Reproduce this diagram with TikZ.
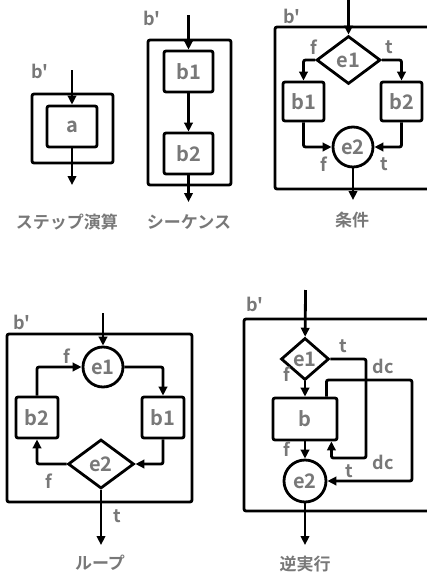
\documentclass[tikz,border=0pt]{standalone}
\usepackage{fontspec}
\setmainfont{Noto Sans CJK JP}[BoldFont={Noto Sans CJK JP Bold}]
\usetikzlibrary{arrows.meta,shapes.geometric}
\definecolor{txtgray}{RGB}{120,120,120}
\newcommand{\bprime}{b\textquotesingle}
\begin{document}
\begin{tikzpicture}[x=1pt, y=-1pt, line width=2.8pt,
  flow/.style={-{Triangle[length=9pt,width=8.5pt]}, rounded corners=2pt},
  blk/.style={draw, rounded corners=2pt, inner sep=0pt, text=txtgray,
    font=\fontsize{20}{20}\selectfont\bfseries},
  outer/.style={draw, rounded corners=2pt, inner sep=0pt},
  cond/.style={draw, diamond, inner sep=0pt, text=txtgray,
    font=\fontsize{20}{20}\selectfont\bfseries},
  merge/.style={draw, circle, inner sep=0pt, minimum size=40pt, text=txtgray,
    font=\fontsize{20}{20}\selectfont\bfseries},
  lbl/.style={text=txtgray, inner sep=0pt, font=\fontsize{18}{18}\selectfont\bfseries},
  caption/.style={text=txtgray, inner sep=0pt, font=\fontsize{17}{17}\selectfont\bfseries}]
\clip (0,0) rectangle (427,576);
% step
\node[outer, minimum width=81pt, minimum height=69pt] (box1) at (72.5,128.5) {};
\node[blk, minimum width=50pt, minimum height=41pt] (a) at (72,126.5) {a};
\coordinate (in1) at (72,70);
\coordinate (out1) at (72,185);
\draw[flow] (in1) -- (a);
\draw[flow] (a) -- (out1);
\node[lbl] (bp1) at (40,71) {\bprime};
\node[caption] (cap1) at (67,222) {ステップ演算};
% sequence
\node[outer, minimum width=83pt, minimum height=145pt] (box2) at (189.5,112.5) {};
\node[blk, minimum width=49pt, minimum height=41pt] (s1) at (188.5,71.5) {b1};
\node[blk, minimum width=49pt, minimum height=41pt] (s2) at (188.5,153.5) {b2};
\coordinate (in2) at (188.5,15);
\coordinate (out2) at (188.5,202);
\draw[flow] (in2) -- (s1);
\draw[flow] (s1) -- (s2);
\draw[flow] (s2) -- (out2);
\node[lbl] (bp2) at (152,18) {\bprime};
\node[caption] (cap2) at (189,222) {シーケンス};
% condition
\node[outer, minimum width=165pt, minimum height=162pt] (box3) at (357.5,108) {};
\node[cond, minimum width=64pt, minimum height=48pt] (c1) at (348.5,60) {e1};
\node[blk, minimum width=41pt, minimum height=39pt] (cb1) at (303.5,101.5) {b1};
\node[blk, minimum width=41pt, minimum height=39pt] (cb2) at (401.5,101.5) {b2};
\node[merge] (c2) at (353,147) {e2};
\coordinate (in3) at (348.5,-2);
\coordinate (out3) at (353,200);
\draw[flow] (in3) -- (c1);
\draw[flow] (c1.west) -| (cb1.north);
\draw[flow] (c1.east) -| (cb2.north);
\draw[flow] (cb1.south) |- (c2.west);
\draw[flow] (cb2.south) |- (c2.east);
\draw[flow] (c2) -- (out3);
\node[lbl] (cf1) at (314,47) {f};
\node[lbl] (ct1) at (389,47) {t};
\node[lbl] (cf2) at (324,164) {f};
\node[lbl] (ct2) at (384,164) {t};
\node[lbl] (bp3) at (292,16) {\bprime};
\node[caption] (cap3) at (352,220) {条件};
% loop
\node[outer, minimum width=185pt, minimum height=168pt] (box4) at (99.5,418) {};
\node[merge] (l1) at (103,367) {e1};
\node[blk, minimum width=42pt, minimum height=41pt] (lb2) at (37,417.5) {b2};
\node[blk, minimum width=42pt, minimum height=41pt] (lb1) at (163,417.5) {b1};
\node[cond, minimum width=66pt, minimum height=49pt] (l2) at (101,464) {e2};
\coordinate (in4) at (103,313);
\coordinate (out4) at (101,545);
\draw[flow] (in4) -- (l1);
\draw[flow] (l1.east) -| (lb1.north);
\draw[flow] (lb1.south) |- (l2.east);
\draw[flow] (l2.west) -| (lb2.south);
\draw[flow] (lb2.north) |- (l1.west);
\draw[flow] (l2.south) -- (out4);
\node[lbl] (lf1) at (67,356) {f};
\node[lbl] (lf2) at (49,481) {f};
\node[lbl] (lt1) at (117,516) {t};
\node[lbl] (bp4) at (22,322) {\bprime};
\node[caption] (cap4) at (100,563) {ループ};
% reverse
\node[outer, minimum width=196pt, minimum height=192pt] (box5) at (342,415) {};
\node[cond, minimum width=48pt, minimum height=42pt] (r1) at (305,359) {e1};
\node[blk, minimum width=64pt, minimum height=42pt] (rb) at (305,419) {b};
\node[merge, minimum size=42pt] (r2) at (305,481) {e2};
\coordinate (in5) at (305.5,290);
\coordinate (out5) at (305,545);
\coordinate (tl) at (366,458);
\coordinate (dl) at (412,380);
\draw[flow] (in5) -- (r1);
\draw[flow] (r1) -- (rb);
\draw[flow] (rb) -- (r2);
\draw[flow] (r2) -- (out5);
\draw[flow] (r1.east) -| (tl) -| ([xshift=-7pt]rb.south east);
\draw[flow] ([xshift=-12pt]rb.north east) |- (dl) |- (r2.east);
\node[lbl] (rt1) at (343,346) {t};
\node[lbl] (rd1) at (383,366) {dc};
\node[lbl] (rd2) at (383,462) {dc};
\node[lbl] (rt2) at (349,471) {t};
\node[lbl] (rf1) at (287,374) {f};
\node[lbl] (rf2) at (287,449) {f};
\node[lbl] (bp5) at (255,304) {\bprime};
\node[caption] (cap5) at (305,564) {逆実行};
\end{tikzpicture}
\end{document}
